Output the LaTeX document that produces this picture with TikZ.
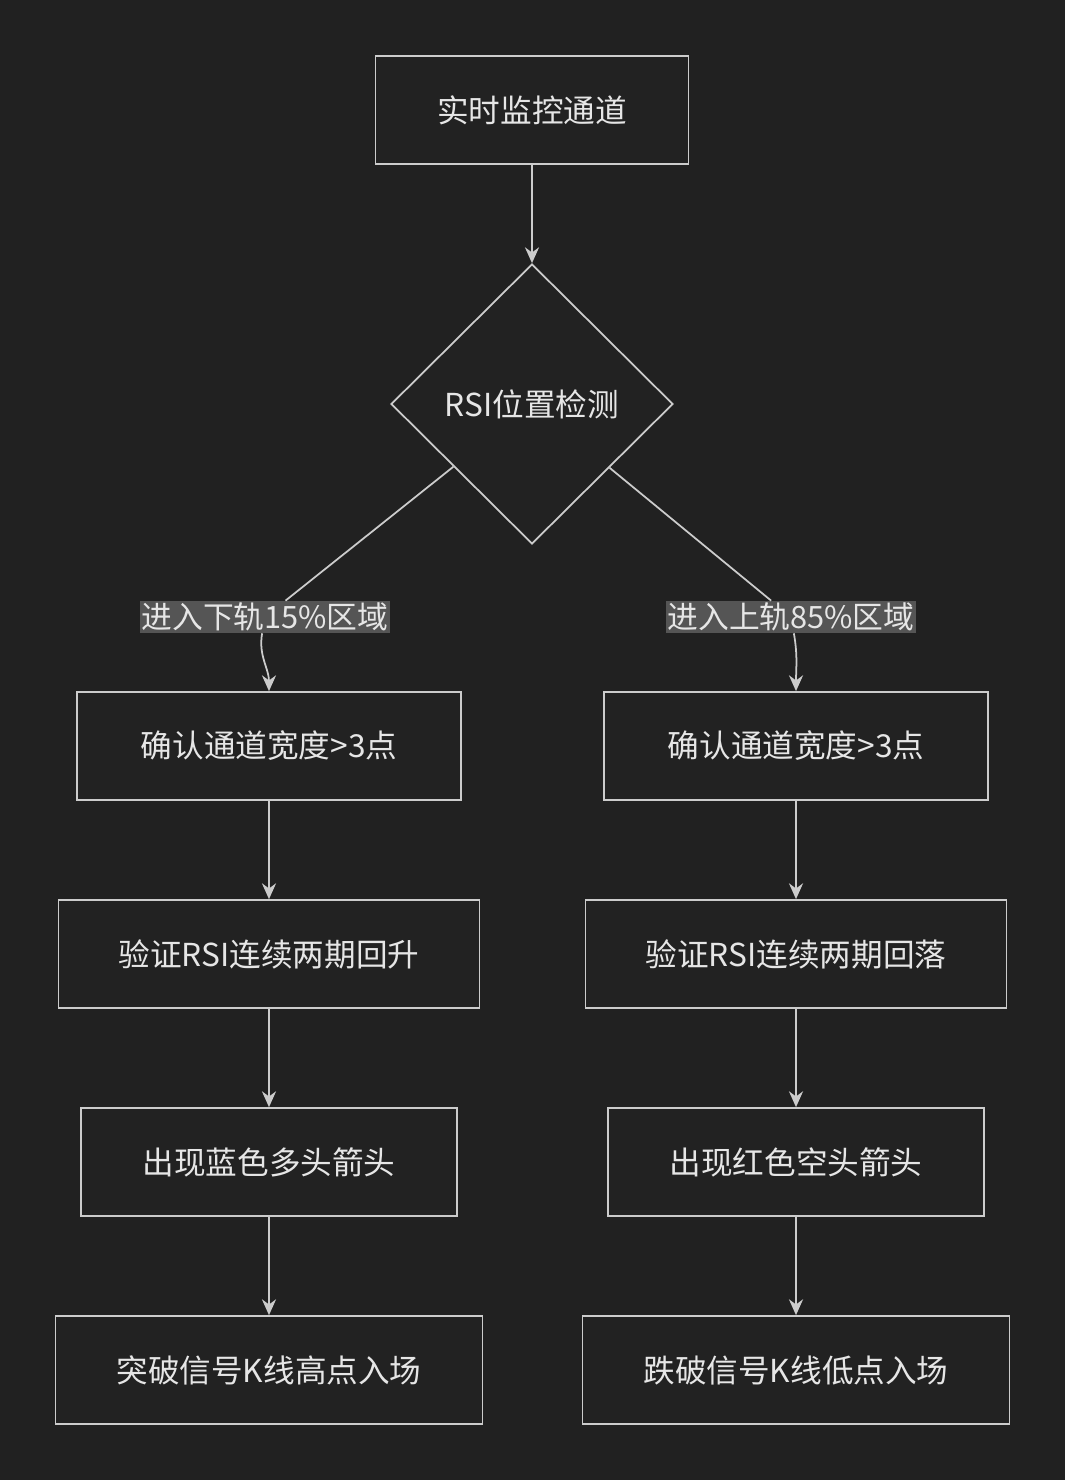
\documentclass[tikz,border=0pt]{standalone}
\usepackage{fontspec}
\setmainfont{Noto Sans CJK SC}
\usetikzlibrary{shapes.geometric,arrows.meta}
\definecolor{bgc}{HTML}{212121}
\definecolor{boxc}{HTML}{222222}
\definecolor{linec}{HTML}{CCCCCC}
\definecolor{lblc}{HTML}{555555}
\definecolor{txtc}{HTML}{E6E6E6}

\begin{document}
\begin{tikzpicture}[x=0.02cm,y=-0.02cm,
  box/.style={draw=linec,fill=boxc,line width=1pt,text=txtc,minimum height=2.16cm,font=\fontsize{18}{21}\selectfont,inner sep=0pt},
  dec/.style={diamond,draw=linec,fill=boxc,line width=1pt,text=txtc,minimum width=5.64cm,minimum height=5.6cm,inner sep=0pt,font=\fontsize{18}{21}\selectfont},
  lbl/.style={fill=lblc,text=txtc,inner sep=1pt,font=\fontsize{17.5}{21}\selectfont},
  arr/.style={draw=linec,line width=1pt,-{Stealth[length=9pt,width=8pt]}},
  ln/.style={draw=linec,line width=1pt}]
\fill[bgc] (0,0) rectangle (1065,1480);
\useasboundingbox (0,0) rectangle (1065,1480);
% top and decision
\node[box,minimum width=6.26cm] (watch) at (532,110) {实时监控通道};
\node[dec] (rsi) at (532,404) {RSI位置检测};
% branch labels
\node[lbl] (lowzone) at (265,617) {进入下轨15\%区域};
\node[lbl] (upzone) at (791,617) {进入上轨85\%区域};
% left branch
\node[box,minimum width=7.68cm] (lwidth) at (269,746) {确认通道宽度>3点};
\node[box,minimum width=8.42cm] (lrise) at (269,954) {验证RSI连续两期回升};
\node[box,minimum width=7.52cm] (blue) at (269,1162) {出现蓝色多头箭头};
\node[box,minimum width=8.54cm] (lentry) at (269,1370) {突破信号K线高点入场};
% right branch
\node[box,minimum width=7.68cm] (rwidth) at (796,746) {确认通道宽度>3点};
\node[box,minimum width=8.42cm] (rfall) at (796,954) {验证RSI连续两期回落};
\node[box,minimum width=7.52cm] (red) at (796,1162) {出现红色空头箭头};
\node[box,minimum width=8.54cm] (rentry) at (796,1370) {跌破信号K线低点入场};
% connectors
\draw[arr] (watch) -- (rsi);
\draw[ln] (rsi) -- (lowzone);
\draw[ln] (rsi) -- (upzone);
\draw[arr] (lowzone) to[out=-100,in=90] (lwidth);
\draw[arr] (upzone) to[out=-80,in=90] (rwidth);
\draw[arr] (lwidth) -- (lrise);
\draw[arr] (lrise) -- (blue);
\draw[arr] (blue) -- (lentry);
\draw[arr] (rwidth) -- (rfall);
\draw[arr] (rfall) -- (red);
\draw[arr] (red) -- (rentry);
\end{tikzpicture}
\end{document}
